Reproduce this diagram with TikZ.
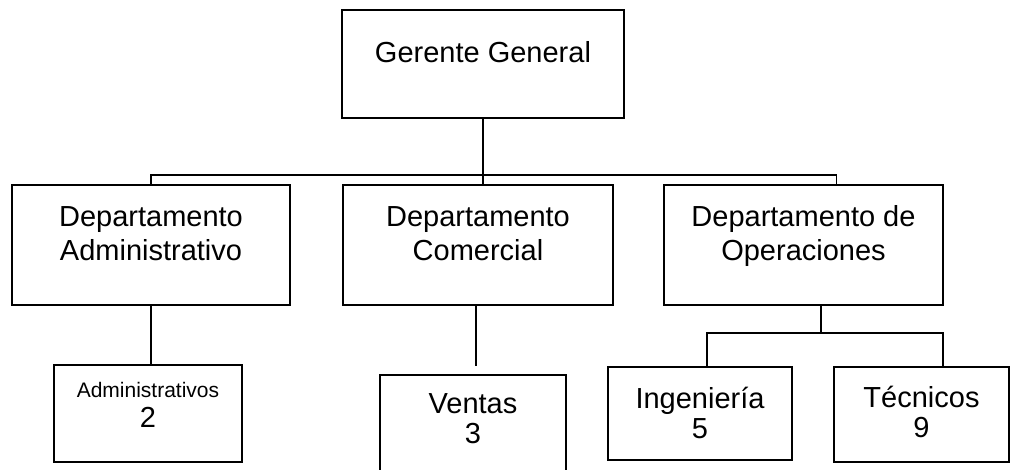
\documentclass[tikz,border=0pt]{standalone}
\usepackage{fontspec}
\setmainfont{Liberation Sans}
\begin{document}
\begin{tikzpicture}[x=1pt,y=-1pt,
  box/.style={draw, line width=2.6pt, inner sep=0pt},
  link/.style={line width=1.7pt},
  bus/.style={line width=1.3pt},
  deptext/.style={font=\fontsize{29}{34}\selectfont, align=center, inner sep=0pt, anchor=base},
  unittext/.style={font=\fontsize{29}{30}\selectfont, align=center, inner sep=0pt, anchor=base}]
\useasboundingbox (0,0) rectangle (1011,469);
\clip (0,0) rectangle (1011,469);

% boxes
\node[box, minimum width=282pt, minimum height=108pt] (gg) at (483,64) {};
\node[box, minimum width=278pt, minimum height=120pt] (da) at (151,245) {};
\node[box, minimum width=270pt, minimum height=120pt] (dc) at (478,245) {};
\node[box, minimum width=279pt, minimum height=120pt] (do) at (803.5,245) {};
\node[box, minimum width=188pt, minimum height=97pt] (adm) at (148,413.5) {};
\node[box, minimum width=186pt, minimum height=105pt] (ven) at (473,427.5) {};
\node[box, minimum width=184pt, minimum height=93pt] (ing) at (700,413.5) {};
\node[box, minimum width=175pt, minimum height=95pt] (tec) at (921.5,414.5) {};

% labels (base anchor sits on the last line)
\node[deptext] (ggt) at (483,62) {Gerente General};
\node[deptext] (dat) at (151,260) {Departamento\\Administrativo};
\node[deptext] (dct) at (478,260) {Departamento\\Comercial};
\node[deptext] (dot) at (803.5,260) {Departamento de\\Operaciones};
\node[unittext] (admt) at (148,427) {{\fontsize{21}{21}\selectfont Administrativos}\\2};
\node[unittext] (vent) at (473,443) {Ventas\\3};
\node[unittext] (ingt) at (700,438) {Ingeniería\\5};
\node[unittext] (tect) at (921.5,437) {Técnicos\\9};

% connectors
\coordinate (top) at (483,175);
\coordinate (vend) at (476,366);
\coordinate (ob) at (821,333);
\draw[link] (gg.south) -- (gg.south |- dc.north);
\draw[bus] (da.north) |- (top) -| ([xshift=33pt]do.north);
\draw[link] (da.south) -- (da.south |- adm.north);
\draw[link] (vend |- dc.south) -- (vend);
\draw[link] (ob |- do.south) -- (ob);
\draw[link] ([xshift=7pt]ing.north) |- (ob) -| ([xshift=21.5pt]tec.north);
\end{tikzpicture}
\end{document}
